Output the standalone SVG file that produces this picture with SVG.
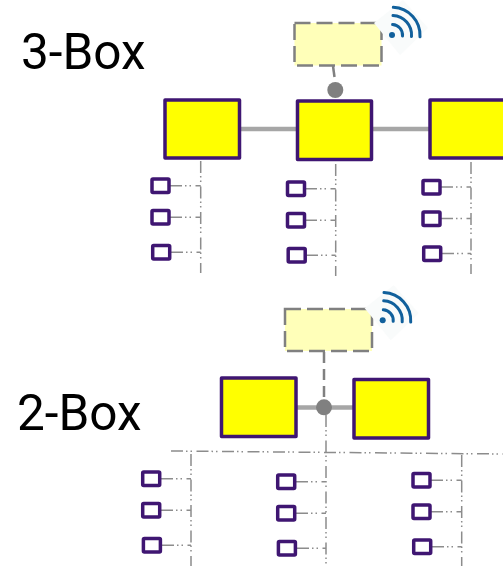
<svg xmlns="http://www.w3.org/2000/svg" width="503" height="566" viewBox="0 0 503 566">
<style>
.box{fill:#ffff00;stroke:#3f1672;stroke-width:3.500;stroke-linejoin:round}
.small{fill:#fff;stroke:#3f1672;stroke-width:3.500;stroke-linejoin:round}
.gw{fill:#ffffb9;stroke:#808080;stroke-width:2.500;stroke-dasharray:16 6}
.bar{stroke:#a6a6a6;stroke-width:4.500;fill:none}
.dash{stroke:#808080;stroke-width:2.500;fill:none}
.dd{stroke:#8c8c8c;stroke-width:1.500;fill:none;stroke-dasharray:12 3 1.5 3 1.5 4.5}
.dot{fill:#808080}
.wifi path{fill:none;stroke:#11609c;stroke-width:3;stroke-linecap:round}
.label{font-family:Roboto,"Liberation Sans",sans-serif;font-size:49.500px;fill:#000}
</style>
<defs>
<g id="wifi-icon" class="wifi">
<polygon points="-18,-12 11,-35 36,-7 8,20" fill="#f9fbfb"/>
<circle cx="0" cy="0" r="3" fill="#11609c"/>
<path d="M0.6,-10.5A10.5,10.5 0 0 1 10.5,1"/>
<path d="M1,-19.5A19.5,19.5 0 0 1 19.5,1.5"/>
<path d="M1.3,-27.7A28,28 0 0 1 28,1.8"/>
</g>
<rect id="sb" x="0" y="0" width="17" height="13.5" rx="1" class="small"/>
</defs>

<g id="connectors">
<path class="bar" d="M240,129H297M372,129H429"/>
<path class="dash" d="M333,66L334.5,77"/>
<path class="bar" d="M297,407.500H354"/>
<path class="dash" d="M324,352V400" stroke-dasharray="11 6"/>
<path class="dd" d="M200.700,161V273M170,185.700H200.700M170,217.200H200.700M171,252.200H200.700"/>
<path class="dd" d="M335.700,164V276M305,188.700H335.700M305,220.200H335.700M306,255.200H335.700"/>
<path class="dd" d="M471,162V274M441,187H471M441,218.500H471M442,253.500H471"/>
<path class="dd" d="M171,451L503,454"/>
<path class="dd" d="M191,454V566M161,478.700H191M161,510.200H191M162,545.200H191"/>
<path class="dd" d="M326,415V566M296,481.700H326M296,513.200H326M297,548.200H326"/>
<path class="dd" d="M461.700,455V566M431,480.200H461.700M431,511.700H461.700M432,546.700H461.700"/>
</g>

<g id="label-3box"><text class="label" x="21" y="69">3-Box</text></g>
<g id="label-2box"><text class="label" x="17" y="430">2-Box</text></g>

<g id="gateway-3"><rect class="gw" x="294.500" y="23" width="87" height="42.500"/><use href="#wifi-icon" x="392" y="35"/></g>
<g id="junction-3"><circle class="dot" cx="335.300" cy="90" r="8"/></g>
<g id="box-3a"><rect class="box" x="165" y="100" width="74.500" height="58"/></g>
<g id="box-3b"><rect class="box" x="297.500" y="101" width="74" height="58.500"/></g>
<g id="box-3c"><rect class="box" x="430" y="100" width="75" height="58"/></g>

<g id="gateway-2"><rect class="gw" x="285" y="309" width="87" height="42"/><use href="#wifi-icon" x="382.700" y="320.300"/></g>
<g id="junction-2"><circle class="dot" cx="324" cy="407.300" r="8"/></g>
<g id="box-2a"><rect class="box" x="221.500" y="378" width="74.500" height="58.500"/></g>
<g id="box-2b"><rect class="box" x="354" y="379.500" width="74.500" height="58.500"/></g>

<g id="s3-1"><use href="#sb" x="152" y="179"/></g>
<g id="s3-2"><use href="#sb" x="152" y="210.500"/></g>
<g id="s3-3"><use href="#sb" x="152.700" y="245.500"/></g>
<g id="s3-4"><use href="#sb" x="287.500" y="182"/></g>
<g id="s3-5"><use href="#sb" x="287.500" y="213.500"/></g>
<g id="s3-6"><use href="#sb" x="288.200" y="248.500"/></g>
<g id="s3-7"><use href="#sb" x="423" y="180.500"/></g>
<g id="s3-8"><use href="#sb" x="423" y="212"/></g>
<g id="s3-9"><use href="#sb" x="423.700" y="247"/></g>

<g id="s2-1"><use href="#sb" x="142.700" y="472"/></g>
<g id="s2-2"><use href="#sb" x="142.700" y="503.500"/></g>
<g id="s2-3"><use href="#sb" x="143.400" y="538.500"/></g>
<g id="s2-4"><use href="#sb" x="277.700" y="475"/></g>
<g id="s2-5"><use href="#sb" x="277.700" y="506.500"/></g>
<g id="s2-6"><use href="#sb" x="278.400" y="541.500"/></g>
<g id="s2-7"><use href="#sb" x="413" y="473.500"/></g>
<g id="s2-8"><use href="#sb" x="413" y="505"/></g>
<g id="s2-9"><use href="#sb" x="413.700" y="540"/></g>
</svg>
